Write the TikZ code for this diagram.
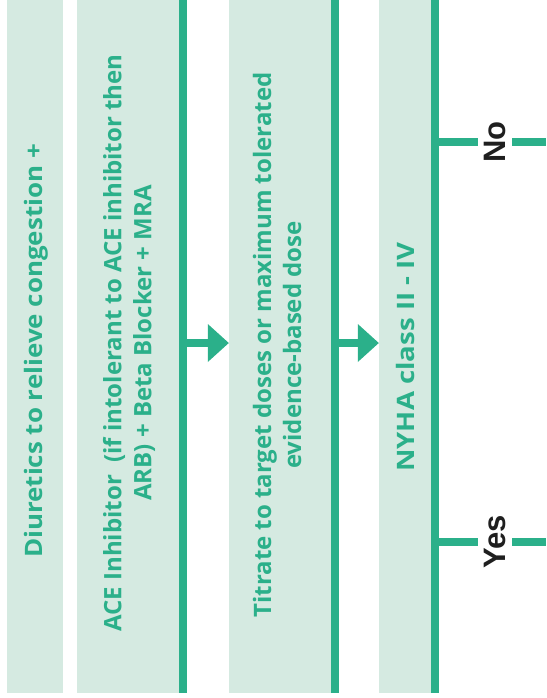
\documentclass[tikz,border=0pt]{standalone}
\usepackage{fontspec}
\setmainfont{Open Sans}
\newfontfamily\ansfont{Liberation Sans}
\usetikzlibrary{arrows.meta}
\definecolor{hfgreen}{RGB}{43,176,138}
\definecolor{hfpale}{RGB}{213,234,225}

\begin{document}
\begin{tikzpicture}[x=1pt,y=-1pt,
    panel/.style={fill=hfpale, inner sep=0pt, minimum height=693pt},
    steptext/.style={text=hfgreen, rotate=90, align=center, inner sep=0pt,
        font=\bfseries\fontsize{24pt}{30pt}\selectfont},
    bar/.style={draw=hfgreen, line width=8pt},
    flow/.style={bar, -{Triangle[length=21pt,width=38pt,line width=0pt]}},
    answer/.style={rotate=90, inner sep=6pt, text=black!88,
        font=\ansfont\bfseries\fontsize{31pt}{31pt}\selectfont}]

    \useasboundingbox (0,0) rectangle (546,698);

    % these are the boxes
    \node[panel, minimum width=56pt] (diur) at (35,346.5) {};
    \node[panel, minimum width=110pt] (ace) at (132,346.5) {};
    \node[panel, minimum width=110pt] (titr) at (284,346.5) {};
    \node[panel, minimum width=60pt] (nyha) at (409,346.5) {};

    % the texts in them
    \node[steptext, xscale=1.08] (diurtext) at (36,351) {Diuretics to relieve congestion +};
    \node[steptext] (acetext) at (129,343) {ACE Inhibitor\ \ (if intolerant to ACE inhibitor then\\ARB) + Beta Blocker + MRA};
    \node[steptext] (titrtext) at (277,345) {Titrate to target doses or maximum tolerated\\evidence-based dose};
    \node[steptext, xscale=1.15] (nyhatext) at (405,357) {NYHA class II - IV};

    % bars on the right side
    \draw[bar] ([xshift=-4pt]ace.north east) -- ([xshift=-4pt]ace.south east);
    \draw[bar] ([xshift=-4pt]titr.north east) -- ([xshift=-4pt]titr.south east);
    \draw[bar] ([xshift=-4pt]nyha.north east) -- ([xshift=-4pt]nyha.south east);

    \draw[flow] ([yshift=3.5pt]ace.east) -- ([yshift=3.5pt]titr.west);
    \draw[flow] ([yshift=3.5pt]titr.east) -- ([yshift=3.5pt]nyha.west);

    % the two answers
    \node[answer] (no) at (495,142) {No};
    \node[answer] (yes) at (495,542) {Yes};
    \coordinate (noend) at (546,142);
    \coordinate (yesend) at (546,542);

    \draw[bar] (nyha.east |- no) -- (no);
    \draw[bar] (no) -- (noend);
    \draw[bar] (nyha.east |- yes) -- (yes);
    \draw[bar] (yes) -- (yesend);

\end{tikzpicture}
\end{document}
